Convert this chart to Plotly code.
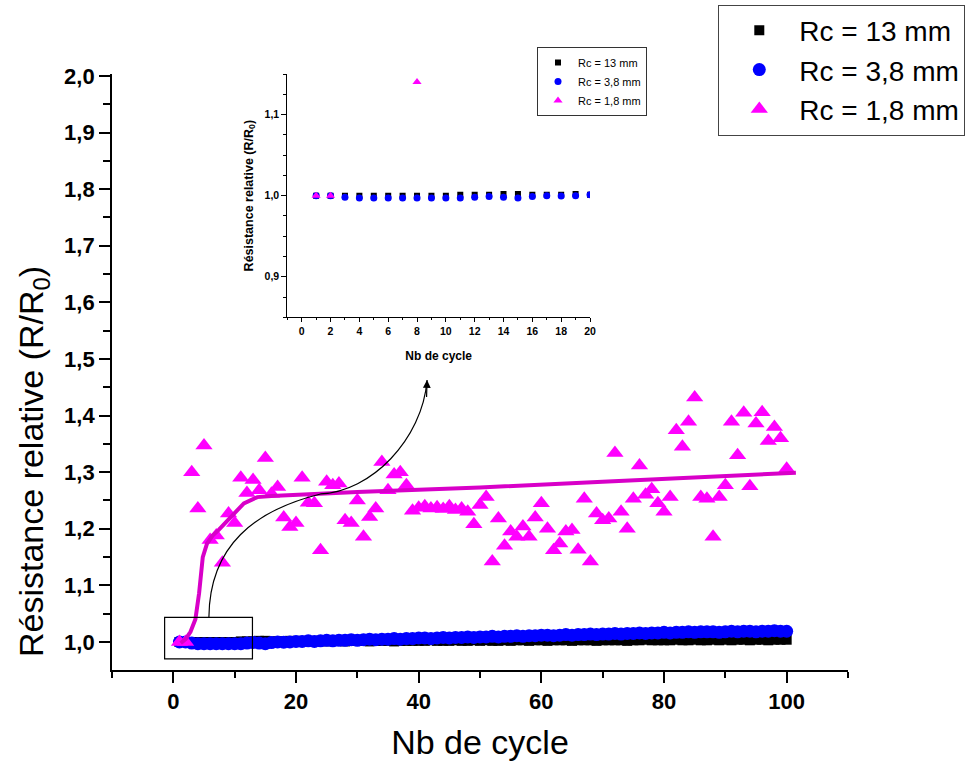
import plotly.graph_objects as go

# ---------------- data ----------------
cycles = list(range(1, 101))

r13 = [1.000, 1.000, 1.000, 1.000, 1.000, 1.000, 1.000, 1.000, 1.000, 1.000,
       1.001, 1.001, 1.001, 1.002, 1.002, 1.001, 1.001, 1.001, 1.002, 1.001,
       1.002, 1.001, 1.002, 1.002, 1.001, 1.002, 1.002, 1.001, 1.002, 1.002,
       1.002, 1.001, 1.002, 1.002, 1.002, 1.001, 1.002, 1.002, 1.002, 1.002,
       1.002, 1.003, 1.002, 1.002, 1.002, 1.003, 1.002, 1.002, 1.003, 1.002,
       1.003, 1.002, 1.002, 1.003, 1.002, 1.003, 1.003, 1.002, 1.003, 1.003,
       1.002, 1.003, 1.003, 1.003, 1.002, 1.003, 1.003, 1.003, 1.002, 1.003,
       1.003, 1.003, 1.003, 1.002, 1.003, 1.003, 1.004, 1.003, 1.003, 1.003,
       1.003, 1.004, 1.003, 1.003, 1.004, 1.003, 1.003, 1.004, 1.003, 1.004,
       1.003, 1.004, 1.004, 1.003, 1.004, 1.004, 1.003, 1.004, 1.004, 1.004]

r38 = [1.000, 1.000, 0.998, 0.997, 0.997, 0.997, 0.997, 0.997, 0.997, 0.997,
       0.997, 0.998, 0.999, 0.998, 0.997, 0.999, 1.000, 0.9995, 1.000, 1.001,
       1.001, 1.002, 1.001, 1.002, 1.003, 1.002, 1.003, 1.003, 1.004, 1.003,
       1.004, 1.005, 1.004, 1.005, 1.005, 1.006, 1.005, 1.006, 1.006, 1.007,
       1.007, 1.006, 1.007, 1.008, 1.007, 1.008, 1.008, 1.009, 1.008, 1.009,
       1.009, 1.010, 1.009, 1.010, 1.010, 1.011, 1.010, 1.011, 1.011, 1.012,
       1.012, 1.011, 1.012, 1.013, 1.012, 1.013, 1.013, 1.014, 1.013, 1.014,
       1.014, 1.015, 1.014, 1.015, 1.015, 1.016, 1.015, 1.016, 1.016, 1.017,
       1.016, 1.017, 1.017, 1.018, 1.017, 1.018, 1.018, 1.018, 1.017, 1.018,
       1.019, 1.018, 1.019, 1.019, 1.018, 1.019, 1.019, 1.020, 1.019, 1.019]

r18 = [1.000, 1.000, 1.300, 1.236, 1.347, 1.180, 1.188, 1.140, 1.227, 1.210,
       1.290, 1.263, 1.286, 1.268, 1.325, 1.262, 1.274, 1.220, 1.203, 1.210,
       1.290, 1.246, 1.245, 1.162, 1.283, 1.277, 1.280, 1.215, 1.210, 1.250,
       1.186, 1.221, 1.236, 1.318, 1.268, 1.296, 1.300, 1.277, 1.232, 1.237,
       1.240, 1.236, 1.238, 1.235, 1.240, 1.233, 1.236, 1.230, 1.208, 1.242,
       1.256, 1.142, 1.218, 1.170, 1.195, 1.186, 1.204, 1.186, 1.220, 1.245,
       1.200, 1.162, 1.174, 1.195, 1.198, 1.163, 1.253, 1.142, 1.227, 1.215,
       1.218, 1.334, 1.230, 1.200, 1.253, 1.312, 1.260, 1.270, 1.245, 1.230,
       1.256, 1.374, 1.345, 1.389, 1.432, 1.256, 1.253, 1.186, 1.256, 1.277,
       1.389, 1.330, 1.405, 1.275, 1.386, 1.406, 1.355, 1.380, 1.360, 1.306]

# fitted curve for Rc = 1,8 mm
fit_x = [1.2, 2.0, 2.8, 3.6, 4.2, 4.5, 4.8, 5.5, 6.4, 7.4, 9.3, 11.5, 13.7, 16.0,
         30, 50, 70, 90, 101.5]
fit_y = [0.998, 1.005, 1.018, 1.040, 1.086, 1.115, 1.150, 1.174, 1.188, 1.198,
         1.221, 1.245, 1.256, 1.258, 1.265, 1.273, 1.283, 1.293, 1.299]

names = ["Rc = 13 mm", "Rc = 3,8 mm", "Rc = 1,8 mm"]
main_xticks = [0, 20, 40, 60, 80, 100]
inset_xticks = list(range(0, 21, 2))
y_title = "Résistance relative (R/R<sub>0</sub>)"
x_title = "Nb de cycle"

# ---------------- style ----------------
FONT = "Liberation Sans, Arial, sans-serif"
symbols = ["square", "circle", "triangle-up"]
colors = ["#000000", "#0000FF", "#FF00FF"]
main_sizes = [10, 13, 15]
inset_sizes = [6, 7, 8]
FIT_COLOR = "#D800C8"

fig = go.Figure()

series = [r13, r38, r18]
for name, ys, sym, col, sz in zip(names, series, symbols, colors, main_sizes):
    fig.add_trace(go.Scatter(
        x=cycles, y=ys, mode="markers", name=name,
        marker=dict(symbol=sym, color=col, size=sz, line=dict(width=0)),
        xaxis="x", yaxis="y", legend="legend"))

fig.add_trace(go.Scatter(
    x=fit_x, y=fit_y, mode="lines", showlegend=False,
    line=dict(color=FIT_COLOR, width=4), xaxis="x", yaxis="y"))

for name, ys, sym, col, sz in zip(names, series, symbols, colors, inset_sizes):
    fig.add_trace(go.Scatter(
        x=cycles, y=ys, mode="markers", name=name,
        marker=dict(symbol=sym, color=col, size=sz, line=dict(width=0)),
        xaxis="x2", yaxis="y2", legend="legend2"))

L, R, T, B = 112, 130, 74, 91
W, H = 978, 761
pw, ph = W - L - R, H - T - B


def px_x(p):
    return (p - L) / pw


def px_y(p):
    return (H - B - p) / ph


axis_common = dict(showline=True, linecolor="black", showgrid=False,
                   zeroline=False, ticks="outside", tickcolor="black",
                   mirror=False)

fig.update_layout(
    width=W, height=H,
    margin=dict(l=L, r=R, t=T, b=B, autoexpand=False),
    paper_bgcolor="white", plot_bgcolor="white",
    separators=", ",
    font=dict(family=FONT, color="black"),
    xaxis=dict(
        **axis_common, domain=[0, 1], anchor="y", range=[-10, 110],
        tickmode="array", tickvals=main_xticks, ticklen=11, tickwidth=1.5,
        linewidth=1.8,
        tickfont=dict(size=22, weight="bold"),
        minor=dict(dtick=10, tick0=0, ticks="outside", ticklen=6,
                   tickwidth=1.5, tickcolor="black", showgrid=False),
        title=dict(text=x_title, font=dict(size=34), standoff=20),
    ),
    yaxis=dict(
        **axis_common, domain=[0, 1], anchor="x", range=[0.9505, 2.0035],
        tickmode="linear", tick0=1.0, dtick=0.1, tickformat=".1f",
        ticklen=11, tickwidth=1.5, linewidth=1.8,
        tickfont=dict(size=22, weight="bold"),
        minor=dict(dtick=0.05, tick0=1.0, ticks="outside", ticklen=7,
                   tickwidth=1.5, tickcolor="black", showgrid=False),
    ),
    xaxis2=dict(
        **axis_common, domain=[px_x(287.3), px_x(590)], anchor="y2",
        range=[-1, 20], tickmode="array", tickvals=inset_xticks,
        ticklen=4, tickwidth=1, linewidth=1,
        tickfont=dict(size=10.5, weight="bold"),
        minor=dict(dtick=1, tick0=0, ticks="outside", ticklen=2,
                   tickwidth=1, tickcolor="black", showgrid=False),
        title=dict(text=x_title, font=dict(size=12, weight="bold"),
                   standoff=15),
    ),
    yaxis2=dict(
        **axis_common, domain=[px_y(317.3), 1.0], anchor="x2",
        range=[0.85, 1.15], tickmode="linear", tick0=0.9, dtick=0.1,
        tickformat=".1f", ticklen=5, tickwidth=1, linewidth=1,
        tickfont=dict(size=10.5, weight="bold"),
        minor=dict(dtick=0.025, tick0=0.9, ticks="outside", ticklen=3,
                   tickwidth=1, tickcolor="black", showgrid=False),
        title=dict(text=y_title, font=dict(size=12.5, weight="bold"),
                   standoff=8),
    ),
    legend=dict(
        x=px_x(718.3), y=px_y(4.5), xanchor="left", yanchor="top",
        bgcolor="white", bordercolor="#444444", borderwidth=1,
        font=dict(size=28, color="black"), itemwidth=70, tracegroupgap=0),
    legend2=dict(
        x=px_x(537), y=px_y(47), xanchor="left", yanchor="top",
        bgcolor="white", bordercolor="#333333", borderwidth=1,
        font=dict(size=11, color="black"), itemwidth=30, tracegroupgap=0),
)

# main y-axis title (placed like in the original, lower than centre)
fig.add_annotation(text=y_title, textangle=-90, xref="paper", yref="paper",
                   x=px_x(33), y=px_y(462), xanchor="center", yanchor="middle",
                   showarrow=False, font=dict(size=34, family=FONT))

# zoom box around the first cycles
fig.add_shape(type="rect", xref="x", yref="y", x0=-1.42, x1=12.9,
              y0=0.970, y1=1.0436, line=dict(color="black", width=1.2))

# curved arrow from the zoom box to the inset
arrow_path = ("M 5.80,1.0442 C 5.91,1.1714 13.40,1.2332 24.01,1.2615 "
              "C 32.13,1.2650 40.60,1.3569 41.37,1.4629")
fig.add_shape(type="path", xref="x", yref="y", path=arrow_path,
              line=dict(color="black", width=1.2))
fig.add_annotation(x=41.37, y=1.4629, ax=41.28, ay=1.43, xref="x", yref="y",
                   axref="x", ayref="y", text="", showarrow=True,
                   arrowhead=2, arrowsize=1.3, arrowwidth=1.2,
                   arrowcolor="black")

fig.write_html("out.html",
               config={"displayModeBar": False},
               post_script="document.body.style.margin='0px';"
                           "document.body.style.overflow='hidden';")
